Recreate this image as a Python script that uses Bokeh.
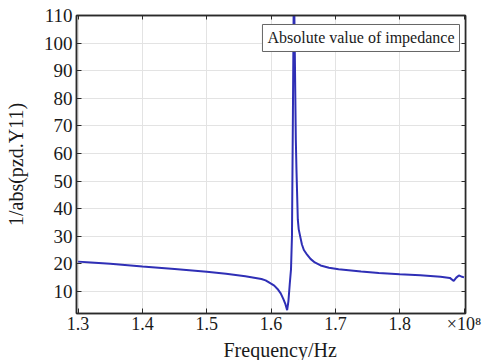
import math
from bokeh.plotting import figure
from bokeh.models import LinearAxis, FixedTicker, CustomJSTickFormatter, Label, Range1d, Title
from bokeh.embed import file_html
from bokeh.resources import INLINE

freq_hz = [1.300e8, 1.320e8, 1.350e8, 1.400e8, 1.450e8, 1.500e8, 1.530e8, 1.560e8,
           1.585e8, 1.5915e8, 1.600e8, 1.605e8, 1.610e8, 1.615e8, 1.619e8, 1.622e8,
           1.625e8, 1.627e8, 1.629e8, 1.631e8, 1.6325e8, 1.634e8, 1.6355e8, 1.637e8,
           1.6385e8, 1.6395e8, 1.6416e8, 1.643e8, 1.6457e8, 1.648e8, 1.651e8, 1.656e8,
           1.6613e8, 1.668e8, 1.677e8, 1.690e8, 1.705e8, 1.740e8, 1.7675e8, 1.800e8,
           1.832e8, 1.8635e8, 1.878e8, 1.884e8, 1.888e8, 1.892e8, 1.897e8, 1.900e8]
impedance = [20.8, 20.5, 20.0, 19.0, 18.1, 17.1, 16.4, 15.5,
             14.5, 14.0, 12.8, 12.1, 10.9, 9.3, 7.3, 5.6,
             3.2, 6.5, 12.5, 18.0, 30.0, 75.0, 125.0, 95.0,
             65.0, 54.0, 36.0, 32.5, 29.5, 27.0, 25.0, 23.3,
             21.8, 20.5, 19.4, 18.6, 18.0, 17.2, 16.7, 16.2,
             15.9, 15.3, 14.9, 13.8, 15.0, 15.8, 15.3, 15.1]

x_ticks = [1.3e8, 1.4e8, 1.5e8, 1.6e8, 1.7e8, 1.8e8, 1.9e8]
y_ticks = [10, 20, 30, 40, 50, 60, 70, 80, 90, 100, 110]
legend_text = "Absolute value of impedance"
x_title = "Frequency/Hz"
y_title = "1/abs(pzd.Y11)"

FONT = "Liberation Serif"
FRAME = "#2a2a2a"
TXT = "#1a1a1a"

p = figure(width=490, height=360, output_backend="svg", toolbar_location=None,
           x_range=Range1d(1.2975e8, 1.9023e8), y_range=Range1d(2, 110),
           min_border_left=76, min_border_right=25, min_border_top=15, min_border_bottom=47)
p.background_fill_color = "white"
p.border_fill_color = "white"
p.outline_line_color = FRAME
p.outline_line_width = 1.5

p.line(freq_hz, impedance, line_color="#2f2fb6", line_width=2)

fmt = CustomJSTickFormatter(code="return tick > 1.85e8 ? '\u00d710\u2078' : (tick/1e8).toFixed(1);")
blank = CustomJSTickFormatter(code="return '';")

xa = p.xaxis[0]
xa.ticker = FixedTicker(ticks=x_ticks)
xa.formatter = fmt
ya = p.yaxis[0]
ya.ticker = FixedTicker(ticks=y_ticks)
ya.axis_label = y_title
ya.axis_label_standoff = 14
ya.axis_label_text_font = FONT
ya.axis_label_text_font_size = "20px"
ya.axis_label_text_font_style = "normal"

for ax in (xa, ya):
    ax.major_tick_in = 5
    ax.major_tick_out = 0
    ax.minor_tick_in = 0
    ax.minor_tick_out = 0
    ax.axis_line_color = FRAME
    ax.axis_line_width = 1.5
    ax.major_tick_line_color = FRAME
    ax.major_label_text_font = FONT
    ax.major_label_text_font_size = "19px"
    ax.major_label_text_color = TXT
    ax.axis_label_text_color = TXT
xa.major_label_text_font_size = "18px"
xa.major_label_standoff = 0
ya.major_label_standoff = 4

top = LinearAxis(ticker=FixedTicker(ticks=x_ticks), formatter=blank,
                 major_tick_in=4, major_tick_out=0, minor_tick_in=0, minor_tick_out=0,
                 axis_line_color=FRAME, axis_line_width=1.5, major_tick_line_color=FRAME,
                 major_label_standoff=0)
right = LinearAxis(ticker=FixedTicker(ticks=y_ticks), formatter=blank,
                   major_tick_in=4, major_tick_out=0, minor_tick_in=0, minor_tick_out=0,
                   axis_line_color=FRAME, axis_line_width=1.5, major_tick_line_color=FRAME,
                   major_label_standoff=0)
p.add_layout(top, "above")
p.add_layout(right, "right")

# x axis title, placed as a title below the axis so it can be offset like the reference
p.add_layout(Title(text=x_title, align="left", offset=147, text_font=FONT,
                   text_font_size="20px", text_font_style="normal", text_color=TXT,
                   standoff=0), "below")

p.xgrid.ticker = FixedTicker(ticks=x_ticks)
p.ygrid.ticker = FixedTicker(ticks=y_ticks)
p.grid.grid_line_color = "#e3e3e3"
p.grid.grid_line_width = 1

p.add_layout(Label(x=1.7398e8, y=101.85, text=legend_text, text_font=FONT,
                   text_font_size="16px", text_align="center", text_baseline="middle",
                   text_color=TXT, background_fill_color="white",
                   border_line_color="#666666", border_line_width=1, padding=5))

open("out.html", "w").write(file_html(p, INLINE))
